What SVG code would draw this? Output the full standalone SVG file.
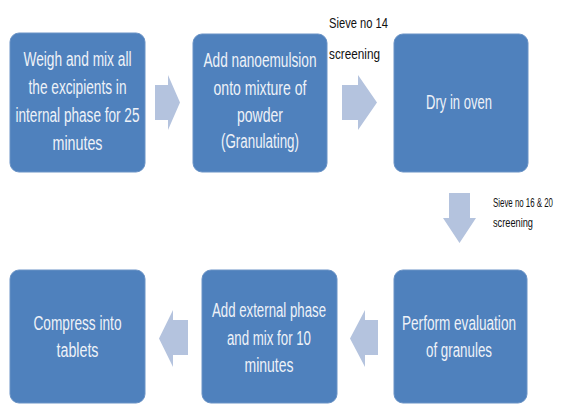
<svg xmlns="http://www.w3.org/2000/svg" width="563" height="405" viewBox="0 0 563 405">
<style>
.box{fill:#4F81BD;stroke:#6A93C6;stroke-width:1}
.bt{font-family:"Liberation Sans",Arial,sans-serif;font-size:20px;fill:#EEF2F8;text-anchor:middle}
.arr{fill:#B4C3DE}
.lbl{font-family:"Liberation Sans",Arial,sans-serif;fill:#111111}
</style>
<rect width="563" height="405" fill="#FFFFFF"/>
<g id="connectors">
<polygon class="arr" points="155,85 168,85 168,75 180,102.5 168,130 168,120 155,120"/>
<polygon class="arr" points="342,85 358,85 358,75 377,102.5 358,130 358,120 342,120"/>
<polygon class="arr" points="449,193 470,193 470,218 476,218 459.5,243 443,218 449,218"/>
<polygon class="arr" points="378,320 365,320 365,310 350,338.5 365,367 365,355 378,355"/>
<polygon class="arr" points="188,320 173,320 173,310 159,338.5 173,367 173,355 188,355"/>
<text class="lbl" x="329" y="28" font-size="15" textLength="59" lengthAdjust="spacingAndGlyphs">Sieve no 14</text>
<text class="lbl" x="329" y="59" font-size="15" textLength="51" lengthAdjust="spacingAndGlyphs">screening</text>
<text class="lbl" x="493" y="207" font-size="13" textLength="60" lengthAdjust="spacingAndGlyphs">Sieve no 16 &amp; 20</text>
<text class="lbl" x="493" y="227" font-size="13" textLength="40" lengthAdjust="spacingAndGlyphs">screening</text>
</g>
<g id="n1">
<rect class="box" x="10" y="33" width="135" height="139" rx="9"/>
<text class="bt" x="77.5" y="66" textLength="108" lengthAdjust="spacingAndGlyphs">Weigh and mix all</text>
<text class="bt" x="77.5" y="94" textLength="98" lengthAdjust="spacingAndGlyphs">the excipients in</text>
<text class="bt" x="77.5" y="122" textLength="124" lengthAdjust="spacingAndGlyphs">internal phase for 25</text>
<text class="bt" x="77.5" y="150" textLength="50" lengthAdjust="spacingAndGlyphs">minutes</text>
</g>
<g id="n2">
<rect class="box" x="193" y="34" width="134" height="138" rx="9"/>
<text class="bt" x="260" y="67" textLength="113" lengthAdjust="spacingAndGlyphs">Add nanoemulsion</text>
<text class="bt" x="260" y="95" textLength="93" lengthAdjust="spacingAndGlyphs">onto mixture of</text>
<text class="bt" x="260" y="122" textLength="46" lengthAdjust="spacingAndGlyphs">powder</text>
<text class="bt" x="260" y="148" textLength="78" lengthAdjust="spacingAndGlyphs">(Granulating)</text>
</g>
<g id="n3">
<rect class="box" x="394" y="34" width="134" height="138" rx="9"/>
<text class="bt" x="459" y="109" textLength="66" lengthAdjust="spacingAndGlyphs">Dry in oven</text>
</g>
<g id="n4">
<rect class="box" x="394" y="270" width="133" height="133" rx="9"/>
<text class="bt" x="459" y="330" textLength="114" lengthAdjust="spacingAndGlyphs">Perform evaluation</text>
<text class="bt" x="459" y="357" textLength="66" lengthAdjust="spacingAndGlyphs">of granules</text>
</g>
<g id="n5">
<rect class="box" x="202" y="270" width="135" height="133" rx="9"/>
<text class="bt" x="269" y="317" textLength="114" lengthAdjust="spacingAndGlyphs">Add external phase</text>
<text class="bt" x="269" y="345" textLength="84" lengthAdjust="spacingAndGlyphs">and mix for 10</text>
<text class="bt" x="269" y="372" textLength="49" lengthAdjust="spacingAndGlyphs">minutes</text>
</g>
<g id="n6">
<rect class="box" x="10" y="270" width="135" height="133" rx="9"/>
<text class="bt" x="77.5" y="330" textLength="88" lengthAdjust="spacingAndGlyphs">Compress into</text>
<text class="bt" x="77.5" y="357" textLength="42" lengthAdjust="spacingAndGlyphs">tablets</text>
</g>
</svg>
